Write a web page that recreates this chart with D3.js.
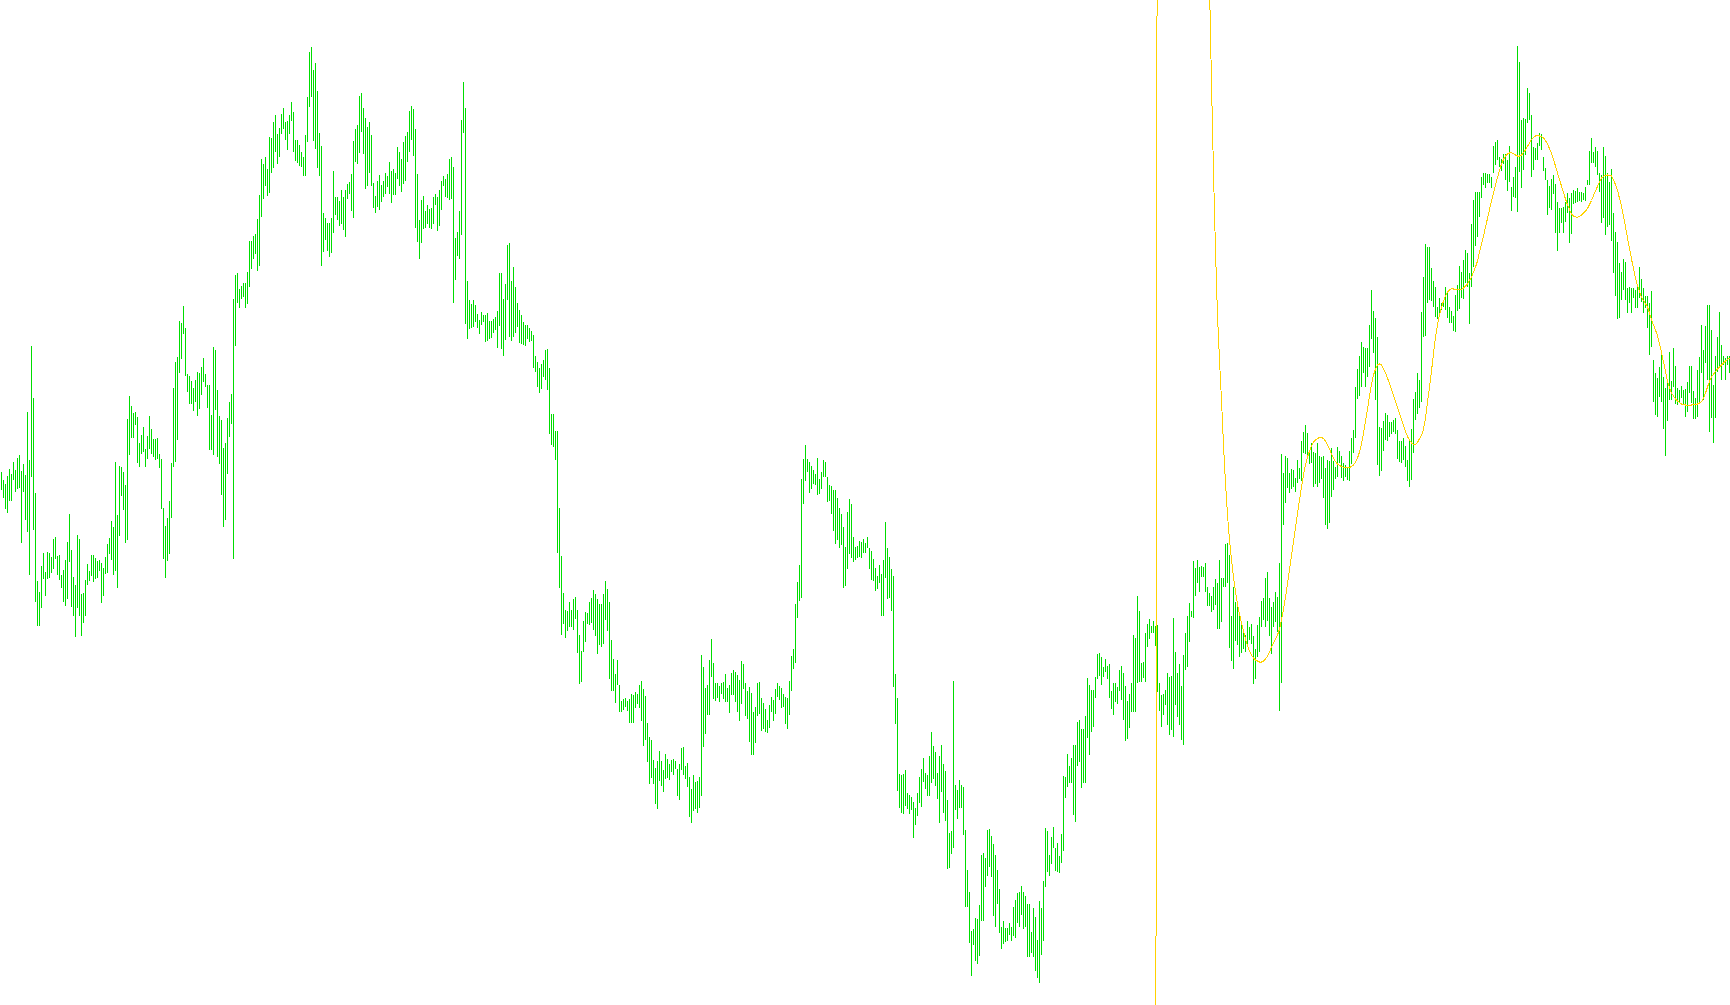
<!DOCTYPE html>
<html><head><meta charset="utf-8">
<script src="https://cdn.jsdelivr.net/npm/d3@7"></script>
<style>html,body{margin:0;padding:0;background:#fff;overflow:hidden}</style>
</head><body>
<svg id="chart" width="1730" height="1005"></svg>
<script>
// Bar highs (price points)
const high = [
533,525,521,529,536,531,543,535,547,550,
534,541,530,593,545,659,607,512,424,413,
439,452,433,453,452,448,466,468,449,450,
430,435,445,463,491,455,428,420,470,466,
411,412,425,441,434,450,450,447,444,445,
442,437,448,461,467,484,478,543,490,539,
538,533,520,586,609,599,592,593,588,562,
570,578,556,569,589,576,566,566,567,551,
546,497,479,487,504,542,617,643,648,684,
682,699,677,631,629,624,617,625,633,632,
638,647,631,620,620,590,658,655,615,589,
585,557,562,587,603,611,706,730,732,716,
719,722,722,733,764,764,769,771,786,810,
846,841,848,836,868,867,883,890,871,877,
891,897,883,884,890,903,893,865,865,860,
853,848,870,908,953,958,935,942,914,872,
859,792,787,782,782,787,834,808,808,804,
815,808,815,821,823,831,864,876,880,909,
912,897,887,878,883,870,822,809,824,830,
820,824,832,829,843,834,836,832,858,853,
846,863,869,873,894,899,896,876,831,785,
805,809,794,800,796,797,808,811,808,815,
824,829,826,831,846,848,838,767,773,794,
885,923,897,724,705,701,705,700,691,685,
693,690,690,692,684,684,686,688,694,732,
732,706,721,760,762,724,738,718,702,695,
690,683,680,680,677,674,670,649,643,637,
641,645,655,656,637,591,591,574,574,497,
449,412,395,394,403,395,406,408,395,370,
354,384,393,392,403,407,415,411,406,401,
401,411,424,416,403,365,346,331,345,320,
304,306,307,304,306,311,310,313,311,320,
324,316,309,282,268,265,245,237,244,254,
244,235,251,246,241,245,246,244,236,241,
257,258,239,242,228,216,230,223,224,228,
350,338,317,320,345,366,342,322,322,319,
322,323,331,317,320,332,335,333,330,325,
344,341,322,314,318,312,293,298,322,323,
307,302,296,285,300,308,305,316,322,319,
317,311,308,307,324,349,356,401,423,440,
526,546,560,546,543,539,535,531,547,526,
533,545,543,528,520,519,515,515,507,497,
491,478,458,493,506,501,468,458,459,464,
463,466,462,468,457,454,446,437,429,440,
431,445,483,457,448,436,429,331,307,231,
230,231,235,212,210,208,203,197,212,228,
236,247,232,230,249,273,259,253,232,249,
260,241,234,205,172,174,324,220,215,225,
220,218,175,135,113,74,76,87,86,100,
150,152,147,175,176,169,161,150,135,116,
78,84,77,77,82,78,98,105,112,113,
119,113,109,101,101,73,97,88,65,104,
97,124,177,174,150,168,178,157,162,149,
171,229,228,251,239,247,260,260,283,285,
276,276,289,327,320,315,315,328,351,352,
348,338,346,339,341,314,322,322,318,335,
339,332,319,304,311,322,370,367,409,394,
342,343,372,381,386,379,384,379,380,322,
310,311,315,332,328,329,387,353,332,341,
319,350,372,389,402,394,444,437,445,438,
439,438,442,418,412,409,418,426,422,445,
427,427,461,462,450,389,418,403,398,393,
380,374,370,384,378,381,369,356,380,388,
404,407,427,433,407,398,403,413,408,442,
551,532,549,547,532,536,535,527,545,537,
564,573,580,572,555,562,553,552,562,549,
548,549,537,545,544,557,544,538,558,554,
549,542,540,538,554,567,575,618,636,649,
663,658,657,657,680,715,694,687,668,578,
577,584,592,590,583,583,585,587,575,564,
564,567,559,545,566,576,606,613,632,625,
693,728,761,758,758,737,724,718,698,707,
702,703,718,713,698,694,689,710,720,739,
733,745,755,752,732,781,805,813,813,813,
828,832,832,831,831,828,859,863,865,848,
846,851,851,845,859,818,828,838,959,943,
885,887,886,917,912,890,858,857,862,872,
871,848,837,825,819,826,830,821,803,797,
797,798,803,812,807,812,815,814,817,813,
813,812,818,825,854,867,853,858,854,832,
830,858,849,832,823,836,792,773,763,742,
733,746,743,717,718,717,717,715,718,738,
726,717,709,709,702,714,645,632,627,638,
655,628,617,622,653,624,657,639,617,615,
619,615,616,623,639,639,614,607,635,648,
680,655,679,700,700,675,620,649,668,693,
660,649,647,649,649
];
// Bar lows (price points)
const low = [
515,507,496,492,504,504,525,513,516,517,
462,513,485,473,430,528,475,403,379,379,
397,426,409,426,427,432,436,446,430,425,
417,403,399,406,443,398,389,368,397,389,
369,382,389,420,424,429,423,426,427,434,
402,409,431,432,451,445,430,434,417,469,
509,495,462,465,550,567,567,580,542,538,
551,553,538,546,556,551,548,545,546,537,
496,446,427,444,451,487,538,543,565,632,
646,671,629,613,601,601,594,603,589,596,
610,623,618,597,555,555,550,595,548,541,
510,478,485,531,568,581,446,659,702,697,
706,708,697,701,718,736,746,751,734,739,
788,806,819,809,812,832,837,853,841,848,
871,876,865,855,871,884,853,844,842,839,
838,829,829,863,898,908,864,856,837,829,
739,753,765,754,748,752,772,790,785,779,
781,775,768,806,811,794,787,843,841,852,
873,851,816,819,832,819,797,792,798,795,
803,808,811,818,811,802,810,810,826,819,
813,821,824,843,853,865,849,777,763,746,
762,776,777,781,777,776,781,800,774,779,
795,819,808,807,805,806,702,725,749,746,
770,872,681,666,676,677,678,683,677,671,
680,683,663,664,666,667,672,675,657,679,
656,649,665,705,668,664,668,672,678,662,
661,660,659,666,663,664,637,633,618,612,
616,628,625,615,571,560,558,545,452,417,
370,381,367,374,378,378,375,386,352,321,
323,353,363,381,380,382,375,369,351,360,
358,361,385,374,326,314,314,302,320,293,
293,295,298,294,282,282,282,297,301,297,
284,259,265,243,221,227,221,201,196,224,
219,213,226,227,225,233,230,236,209,205,
235,230,226,218,188,182,194,196,192,197,
209,258,271,290,290,328,306,304,307,303,
311,306,303,303,292,310,310,303,293,284,
301,316,289,286,263,250,250,262,289,291,
274,276,273,272,277,293,284,291,308,305,
297,298,281,276,290,314,336,342,387,404,
407,501,524,533,512,516,521,520,510,511,
516,528,528,503,504,491,474,461,465,457,
460,417,419,436,451,447,443,445,447,448,
447,452,452,457,436,425,424,414,416,422,
389,389,427,406,407,394,318,281,214,197,
192,191,199,196,191,195,167,180,189,202,
198,223,216,209,209,222,226,219,206,182,
213,192,184,136,137,151,157,195,186,197,
197,170,98,98,62,29,60,44,41,49,
84,84,118,129,138,128,89,78,101,72,
56,61,63,64,70,64,69,67,82,78,
90,76,78,48,48,52,48,34,27,22,
50,64,118,133,129,141,157,134,133,132,
142,154,207,218,222,222,190,183,239,243,
217,222,222,267,250,273,278,307,326,329,
320,328,333,326,307,296,290,303,301,314,
305,285,264,266,277,293,293,293,322,323,
323,327,323,358,366,372,372,359,313,294,
278,290,300,280,270,275,268,300,288,280,
265,260,335,338,363,388,387,409,422,413,
428,428,413,399,399,393,395,400,376,376,
383,418,418,422,357,344,336,364,360,348,
352,356,353,360,365,361,321,326,348,353,
378,385,378,384,369,351,378,383,373,294,
322,480,502,517,512,516,518,513,522,526,
524,552,551,546,541,542,518,521,518,522,
526,507,480,476,482,508,515,526,528,542,
527,524,528,525,524,541,552,567,606,609,
618,632,618,628,638,666,652,605,540,529,
534,554,565,564,568,571,573,571,546,543,
542,545,538,524,518,525,552,585,591,597,
603,668,669,702,705,704,698,688,686,692,
695,698,695,687,682,682,674,673,694,696,
707,706,722,718,681,718,738,759,768,788,
807,820,817,822,822,817,832,840,845,838,
834,841,825,814,823,794,808,807,793,833,
817,835,850,882,885,828,835,845,845,859,
855,834,825,790,797,795,811,772,754,772,
782,772,783,792,762,771,801,802,803,804,
803,805,804,820,820,842,842,838,830,813,
782,787,770,778,780,764,732,709,686,687,
705,715,705,692,702,692,707,697,697,707,
703,692,697,677,650,658,603,590,588,608,
603,576,549,584,605,605,618,601,600,603,
607,600,588,593,612,602,586,586,588,603,
632,605,642,625,573,587,562,587,633,638,
625,640,625,640,632
];
// Smoothing / extrapolation indicator, starts at bar 577
const signalStart = 577;
const signal = [
-411,1421,1905,
2305,2605,2855,3005,3105,3155,3155,3105,3005,2905,
2755,2605,2455,2305,2155,2005,1875,1755,1645,1535,
1435,1315,1200,1095,1020,922,833,755,689,645,
605,560,522,490,465,445,428,413,401,391,
382,374,366,359,354,350,347,345,344,343,
343,344,346,349,353,358,362,366,370,376,
385,396,408,421,435,449,463,477,491,505,
518,530,540,548,554,559,563,565,566.5,567.5,
567.5,566.5,564,560,556,551,547,543.5,541,539.5,
538.5,537.8,537.3,537,537.5,538.5,540,543,547,553,
561,572,584,596,609,621,630,636,640,641,
640,636.5,632,627,621.5,615.5,609.5,603.5,597.5,591.5,
585.5,579.5,573.7,568.5,565,562,560.5,560.2,562.5,566.5,
569.5,576,587,603,618,634,651.5,668,680.5,690,
697.5,704,709.2,713,715,716.5,716,715.7,715.4,715,
715.5,717,719,721,725,727.5,733,738,744,753,
761,769,778,786.5,795.5,804,812,820,827.5,834.5,
841,845.5,849,851,852,852.3,851.5,850,849,849,
850,852.5,855,858.5,862,865.5,867.5,869,869.2,869,
868.3,867,864.5,861,856.5,852,845.5,839,832,825.5,
819,812.5,806,800,795.5,791,789,788,787.8,788.7,
790,792,794,796.5,800.5,804.5,809.5,814,818.5,823,
827,828.5,829.7,830,829.5,829,825,820.5,815,806.5,
799,788.5,778,767,756.5,746,736.5,727,719.5,713,
707.5,704.5,701.5,698,692,685.5,680,675,669.5,661,
653,643,634,624,617,612,609,606,604,602.5,
601,600.5,600,600,600,600,600.2,600.5,601,602,
603.2,607,612,618,623.5,628,631,633.5,636,638,
640,642,644,645.5,647
];

const W = 1730, H = 1005;
const svg = d3.select('#chart');
const n = high.length;
const x = d3.scaleLinear().domain([0, n - 1]).range([1.5, W - 0.5]);
const y = d3.scaleLinear().domain([0, 1005]).range([H, 0]);

svg.append('rect').attr('width', W).attr('height', H).attr('fill', '#ffffff');

svg.append('g')
  .attr('stroke', '#00dd00')
  .attr('stroke-width', 1)
  .attr('shape-rendering', 'crispEdges')
  .selectAll('line')
  .data(d3.range(n))
  .join('line')
  .attr('x1', i => x(i))
  .attr('x2', i => x(i))
  .attr('y1', i => y(high[i]))
  .attr('y2', i => y(low[i]));

const sig = signal.map((v, k) => ({ i: signalStart + k, v }));
const line = d3.line().x(d => x(d.i)).y(d => y(d.v));
svg.append('path')
  .datum(sig)
  .attr('fill', 'none')
  .attr('stroke', '#ffd200')
  .attr('stroke-width', 1)
  .attr('shape-rendering', 'crispEdges')
  .attr('d', line);
</script>
</body></html>
